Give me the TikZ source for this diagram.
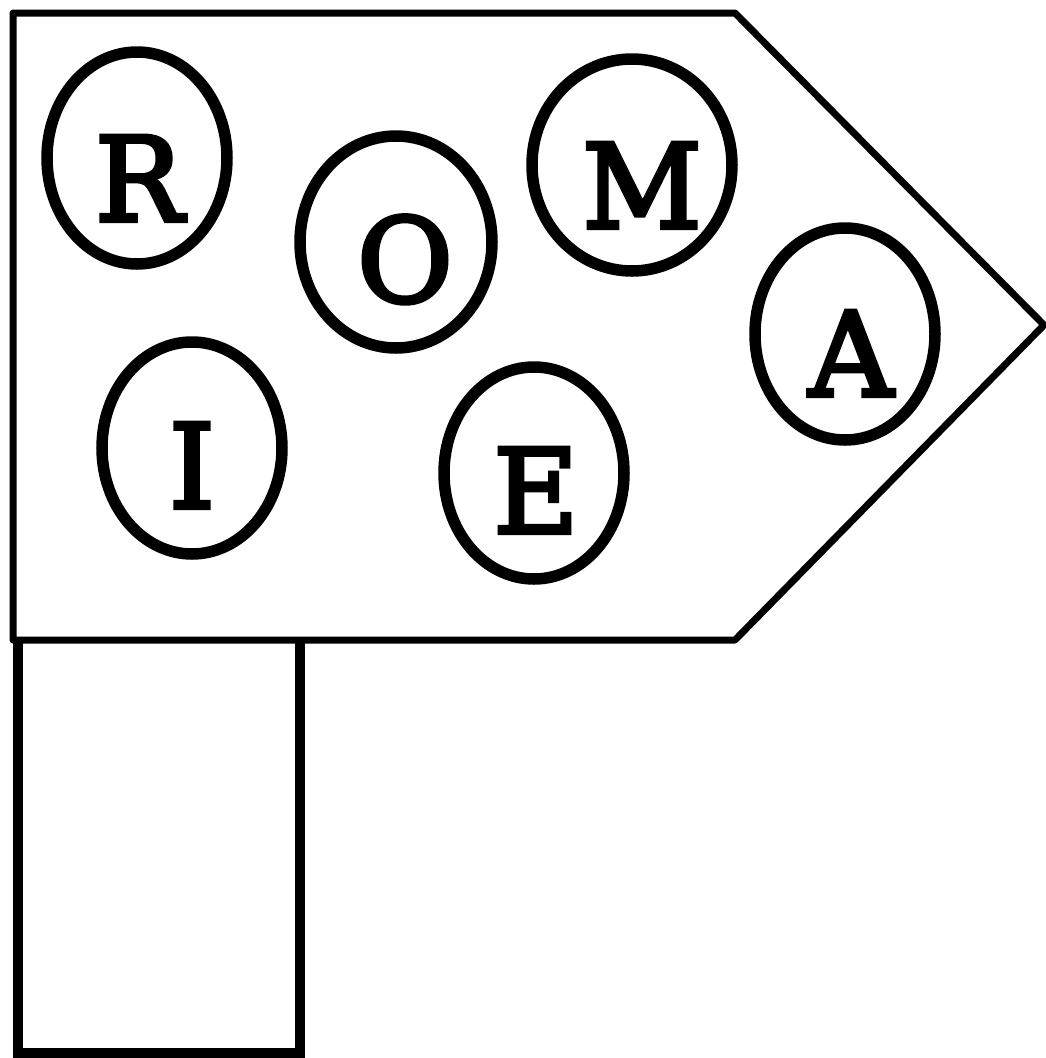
\documentclass[tikz,border=0pt]{standalone}
\usepackage{fontspec}
\newfontfamily\lettfont[FakeBold=3.5]{DejaVu Serif}
\usetikzlibrary{shapes.geometric}
\tikzset{
  ring/.style={draw, ellipse, line width=11.5pt, inner sep=0pt},
  letter/.style={anchor=base, inner sep=0pt, font=\lettfont\fontsize{117}{117}\selectfont},
  signline/.style={line width=7pt, line join=round},
  postline/.style={line width=10pt}
}
\begin{document}
\begin{tikzpicture}[x=1pt,y=-1pt]
\useasboundingbox (0,0) rectangle (1046,1058);
% post
\coordinate (p1) at (18,641);
\coordinate (p2) at (18,1053);
\coordinate (p3) at (300,1053);
\coordinate (p4) at (300,641);
\draw[postline] (p1) -- (p2) -- (p3) -- (p4);
% sign
\coordinate (s1) at (13,13);
\coordinate (s2) at (735,13);
\coordinate (s3) at (1044,325);
\coordinate (s4) at (735,640);
\coordinate (s5) at (13,640);
\draw[signline, fill=white] (s1) -- (s2) -- (s3) -- (s4) -- (s5) -- cycle;
% ellipses
\node[ring, minimum width=180pt, minimum height=212pt] (eR) at (137,158) {};
\node[ring, minimum width=192pt, minimum height=212pt] (eO) at (396,242) {};
\node[ring, minimum width=200pt, minimum height=212pt] (eM) at (632,165) {};
\node[ring, minimum width=180pt, minimum height=212pt] (eA) at (845,334) {};
\node[ring, minimum width=180pt, minimum height=212pt] (eI) at (192,448) {};
\node[ring, minimum width=180pt, minimum height=212pt] (eE) at (534,473) {};
% letters
\node[letter] (R) at (139,221) {R};
\node[letter] (O) at (405,302) {O};
\node[letter] (M) at (642,228) {M};
\node[letter] (A) at (851,396) {A};
\node[letter] (I) at (192,508) {I};
\node[letter] (E) at (536,533) {E};
\end{tikzpicture}
\end{document}
